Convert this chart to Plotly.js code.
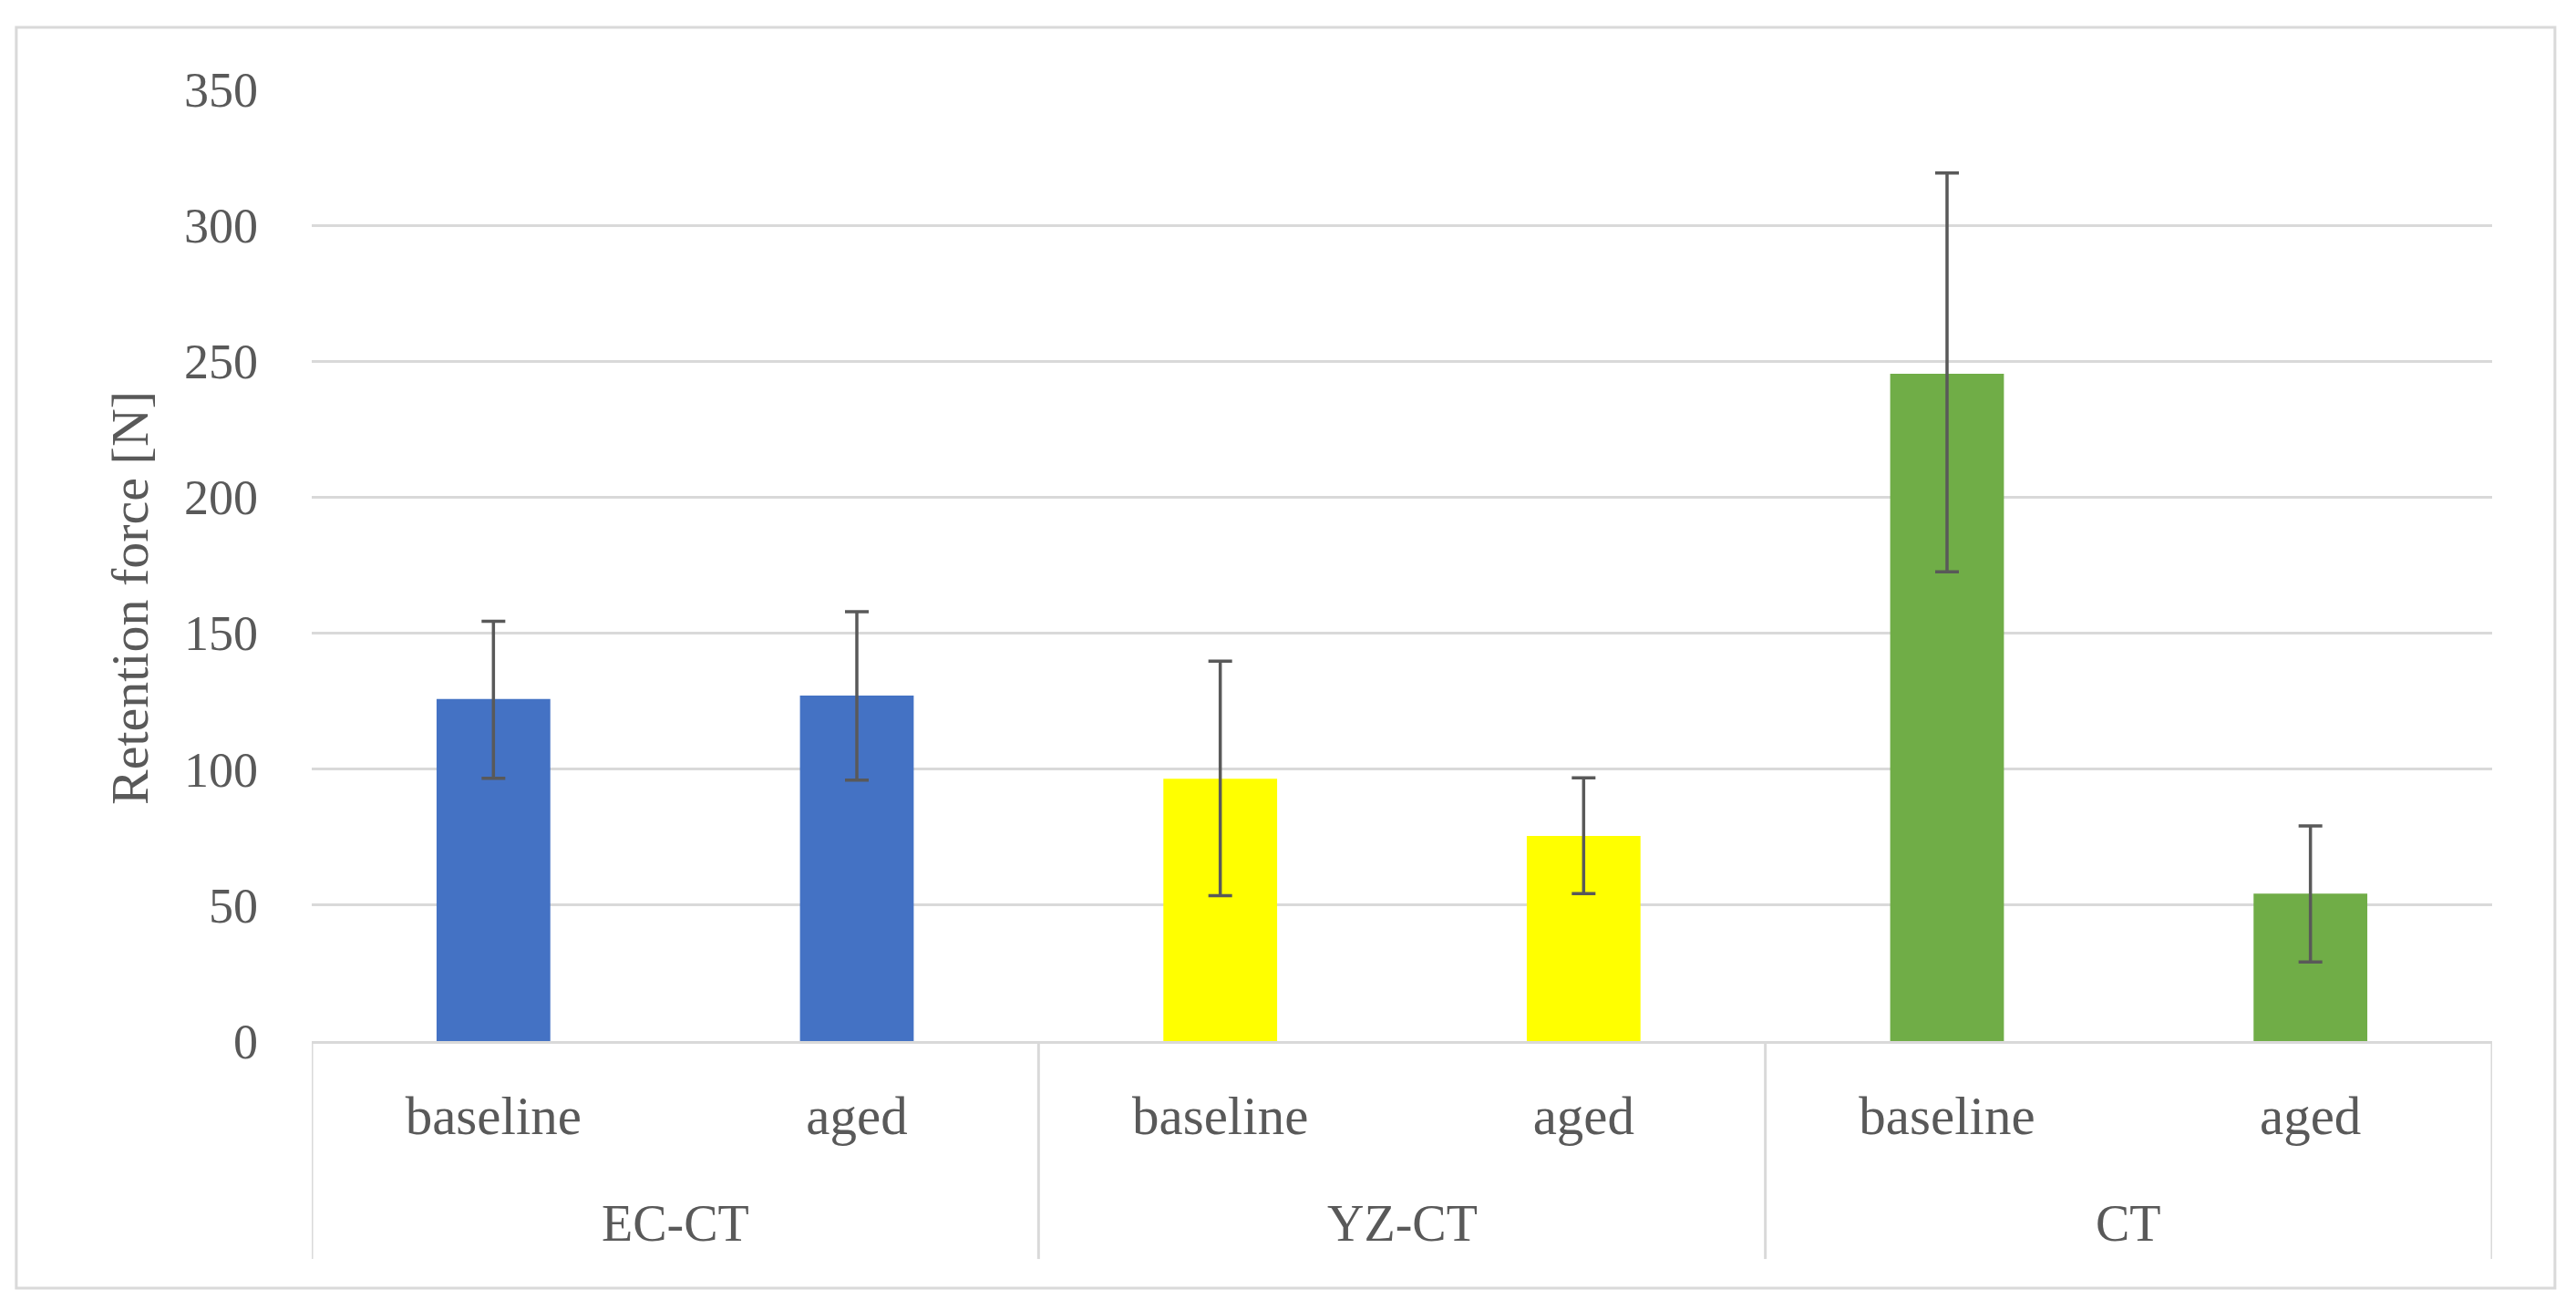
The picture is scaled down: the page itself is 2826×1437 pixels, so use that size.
<!DOCTYPE html>
<html>
<head>
<meta charset="utf-8">
<script src="https://cdn.plot.ly/plotly-3.0.1.min.js"></script>
<style>
  html, body { margin: 0; padding: 0; background: #ffffff; }
  #chart { width: 2826px; height: 1437px; }
</style>
</head>
<body>
<div id="chart"></div>
<script>
// ---- data ----
const groups = ["EC-CT", "EC-CT", "YZ-CT", "YZ-CT", "CT", "CT"];
const conditions = ["baseline", "aged", "baseline", "aged", "baseline", "aged"];
const retentionForce = [125.8, 127.1, 96.5, 75.4, 245.4, 54.2];
const errorPlus = [28.6, 30.8, 43.2, 21.4, 73.8, 24.9];
const errorMinus = [29.2, 31.1, 43.0, 21.2, 72.8, 25.1];
const yTicks = [0, 50, 100, 150, 200, 250, 300, 350];
const yTitle = "Retention force [N]";

// ---- styles ----
const barColors = ["#4472C4", "#4472C4", "#FFFF00", "#FFFF00", "#70AD47", "#70AD47"];
const textColor = "#595959";
const gridColor = "#D9D9D9";
const fontFamily = "'Palatino Linotype', 'Book Antiqua', Palatino, 'Liberation Serif', serif";

// unique category ids (group + condition); shown with the condition name only
const categoryIds = groups.map((g, i) => g + " | " + conditions[i]);

// group spans in category-index units, derived from the groups array
const groupSpans = [];
groups.forEach((g, i) => {
  const last = groupSpans[groupSpans.length - 1];
  if (last && last.name === g) { last.end = i; }
  else { groupSpans.push({ name: g, start: i, end: i }); }
});

const trace = {
  type: "bar",
  x: categoryIds,
  y: retentionForce,
  marker: { color: barColors, line: { width: 0 } },
  error_y: {
    type: "data",
    symmetric: false,
    array: errorPlus,
    arrayminus: errorMinus,
    color: "#595959",
    thickness: 3.5,
    width: 13
  },
  hoverinfo: "skip"
};

// plot-area geometry (paper units)
const labelRowY = -0.1916;   // group label row
const dividerBottom = -0.229; // dividers end

const annotations = groupSpans.map(s => ({
  xref: "x", yref: "paper",
  x: (s.start + s.end) / 2,
  y: labelRowY,
  text: s.name,
  showarrow: false,
  xanchor: "center", yanchor: "middle",
  font: { family: fontFamily, color: textColor, size: 56 }
}));
annotations.push({
  xref: "paper", yref: "paper",
  x: -0.0836, y: 0.4655,
  text: yTitle,
  textangle: -90,
  showarrow: false,
  xanchor: "center", yanchor: "middle",
  font: { family: fontFamily, color: textColor, size: 58 }
});

const boundaries = [groupSpans[0].start - 0.5].concat(groupSpans.map(s => s.end + 0.5));
const shapes = boundaries.map(b => ({
  type: "line",
  xref: "x", yref: "paper",
  x0: b, x1: b, y0: 0, y1: dividerBottom,
  line: { color: gridColor, width: 3 }
}));
shapes.push({
  type: "rect",
  xref: "paper", yref: "paper",
  x0: -0.1355, x1: 1.0288,
  y0: -0.2596, y1: 1.0651,
  line: { color: gridColor, width: 3 },
  fillcolor: "rgba(0,0,0,0)",
  layer: "below"
});

const layout = {
  width: 2826,
  height: 1437,
  paper_bgcolor: "#ffffff",
  plot_bgcolor: "#ffffff",
  showlegend: false,
  bargap: 0.687,
  margin: { l: 342, r: 92, t: 98, b: 295, autoexpand: false },
  font: { family: fontFamily, color: textColor, size: 54 },
  xaxis: {
    type: "category",
    range: [-0.5, categoryIds.length - 0.5],
    tickvals: categoryIds,
    ticktext: conditions,
    showline: true,
    linecolor: gridColor,
    linewidth: 3,
    showgrid: false,
    ticks: "",
    ticklabelstandoff: 28,
    tickfont: { family: fontFamily, color: textColor, size: 59 },
    fixedrange: true
  },
  yaxis: {
    range: [0, 350],
    tickvals: yTicks,
    ticktext: yTicks.map(String),
    showgrid: true,
    gridcolor: gridColor,
    gridwidth: 3,
    zeroline: false,
    showline: false,
    ticks: "",
    ticklabelstandoff: 58,
    tickfont: { family: fontFamily, color: textColor, size: 54 },
    fixedrange: true
  },
  annotations: annotations,
  shapes: shapes
};

Plotly.newPlot("chart", [trace], layout, { staticPlot: true, displayModeBar: false });
</script>
</body>
</html>
